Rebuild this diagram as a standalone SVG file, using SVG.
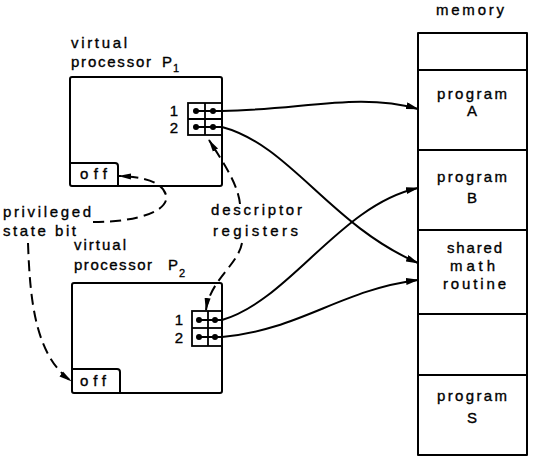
<svg xmlns="http://www.w3.org/2000/svg" width="540" height="460" viewBox="0 0 540 460">
<style>
  .box { fill: none; stroke: #000; stroke-width: 2; stroke-linejoin: round; }
  .thin { fill: none; stroke: #000; stroke-width: 1.8; }
  .lbl { font-family: "Liberation Sans", Arial, sans-serif; font-size: 15px; fill: #000; stroke: #000; stroke-width: 0.35; }
  .sub { font-family: "Liberation Sans", Arial, sans-serif; font-size: 11px; fill: #000; stroke: #000; stroke-width: 0.3; }
  .mid { text-anchor: middle; }
  .conn { fill: none; stroke: #000; stroke-width: 2; }
  .dash { fill: none; stroke: #000; stroke-width: 2; stroke-dasharray: 11 6; }
  .dot { fill: #000; }
</style>
<defs>
  <marker id="arr" markerUnits="userSpaceOnUse" markerWidth="13" markerHeight="7" refX="12" refY="3.5" orient="auto">
    <path d="M0,0 L13,3.5 L0,7 Z" fill="#000"/>
  </marker>
  <marker id="darr" markerUnits="userSpaceOnUse" markerWidth="13" markerHeight="7" refX="12" refY="3.5" orient="auto">
    <path d="M0,0.5 L13,3.5 L0,6.5 Z" fill="#000"/>
  </marker>
</defs>
<rect width="540" height="460" fill="#fff"/>

<g id="memory">
  <text class="lbl" x="436" y="15" textLength="68" lengthAdjust="spacing">memory</text>
  <rect class="box" x="418" y="33" width="109" height="422"/>
  <line class="box" x1="418" y1="70" x2="527" y2="70"/>
  <line class="box" x1="418" y1="150" x2="527" y2="150"/>
  <line class="box" x1="418" y1="230" x2="527" y2="230"/>
  <line class="box" x1="418" y1="314" x2="527" y2="314"/>
  <line class="box" x1="418" y1="375" x2="527" y2="375"/>
</g>
<g id="programA">
  <text class="lbl" x="437" y="99" textLength="70" lengthAdjust="spacing">program</text>
  <text class="lbl mid" x="472" y="116">A</text>
</g>
<g id="programB">
  <text class="lbl" x="437" y="182" textLength="70" lengthAdjust="spacing">program</text>
  <text class="lbl mid" x="472" y="203">B</text>
</g>
<g id="shared">
  <text class="lbl" x="447" y="253" textLength="55" lengthAdjust="spacing">shared</text>
  <text class="lbl" x="450" y="271" textLength="45" lengthAdjust="spacing">math</text>
  <text class="lbl" x="443" y="289" textLength="63" lengthAdjust="spacing">routine</text>
</g>
<g id="programS">
  <text class="lbl" x="437" y="401" textLength="70" lengthAdjust="spacing">program</text>
  <text class="lbl mid" x="472" y="423">S</text>
</g>

<g id="P1">
  <text class="lbl" x="71" y="48" textLength="56" lengthAdjust="spacing">virtual</text>
  <text class="lbl" x="71" y="67" textLength="80" lengthAdjust="spacing">processor</text>
  <text class="lbl" x="162" y="67">P</text>
  <text class="sub" x="173" y="72">1</text>
  <rect class="box" x="70" y="77" width="152" height="109" rx="2"/>
  <path class="box" d="M70,163 H115 Q118,163 118,166 V186"/>
  <text class="lbl" x="80" y="179" textLength="27" lengthAdjust="spacing">off</text>
  <rect class="thin" x="188" y="103" width="34" height="32"/>
  <line class="thin" x1="205" y1="103" x2="205" y2="135"/>
  <line class="thin" x1="188" y1="119" x2="222" y2="119"/>
  <text class="lbl mid" x="174" y="116">1</text>
  <text class="lbl mid" x="174" y="133">2</text>
  <circle class="dot" cx="196" cy="111" r="3"/>
  <circle class="dot" cx="213" cy="111" r="3"/>
  <circle class="dot" cx="196" cy="127" r="3"/>
  <circle class="dot" cx="213" cy="127" r="3"/>
</g>

<g id="P2">
  <text class="lbl" x="74" y="250" textLength="52" lengthAdjust="spacing">virtual</text>
  <text class="lbl" x="74" y="270" textLength="78" lengthAdjust="spacing">processor</text>
  <text class="lbl" x="168" y="270">P</text>
  <text class="sub" x="179" y="277">2</text>
  <rect class="box" x="72" y="283" width="150" height="110" rx="2"/>
  <path class="box" d="M72,369 H117 Q120,369 120,372 V393"/>
  <text class="lbl" x="80" y="386" textLength="26" lengthAdjust="spacing">off</text>
  <rect class="thin" x="192" y="311" width="30" height="35"/>
  <line class="thin" x1="208" y1="311" x2="208" y2="346"/>
  <line class="thin" x1="192" y1="328" x2="222" y2="328"/>
  <text class="lbl mid" x="179" y="325">1</text>
  <text class="lbl mid" x="179" y="343">2</text>
  <circle class="dot" cx="199" cy="320" r="3"/>
  <circle class="dot" cx="215" cy="320" r="3"/>
  <circle class="dot" cx="199" cy="337" r="3"/>
  <circle class="dot" cx="215" cy="337" r="3"/>
</g>

<g id="privileged">
  <text class="lbl" x="3" y="217" textLength="88" lengthAdjust="spacing">privileged</text>
  <text class="lbl" x="3" y="236" textLength="73" lengthAdjust="spacing">state bit</text>
</g>
<g id="descriptor">
  <text class="lbl" x="211" y="215" textLength="91" lengthAdjust="spacing">descriptor</text>
  <text class="lbl" x="213" y="236" textLength="85" lengthAdjust="spacing">registers</text>
</g>

<g id="connectors">
  <path class="conn" d="M196,111 H222 C300,110 360,92 418,109" marker-end="url(#arr)"/>
  <path class="conn" d="M196,127 H222 C290,145 330,225 418,263" marker-end="url(#arr)"/>
  <path class="conn" d="M199,320 H222 C290,300 340,205 418,188" marker-end="url(#arr)"/>
  <path class="conn" d="M199,337 H222 C300,330 340,290 418,280" marker-end="url(#arr)"/>
  <path class="dash" d="M93,222 C140,222 170,210 166,195 C162,182 145,177 119,176" marker-end="url(#darr)"/>
  <path class="dash" d="M28,243 C30,300 35,355 71,381" marker-end="url(#darr)"/>
  <path class="dash" d="M240,204 C238,185 225,165 209,140" marker-end="url(#darr)"/>
  <path class="dash" d="M242,243 C238,265 210,280 206,310" marker-end="url(#darr)"/>
</g>
</svg>
